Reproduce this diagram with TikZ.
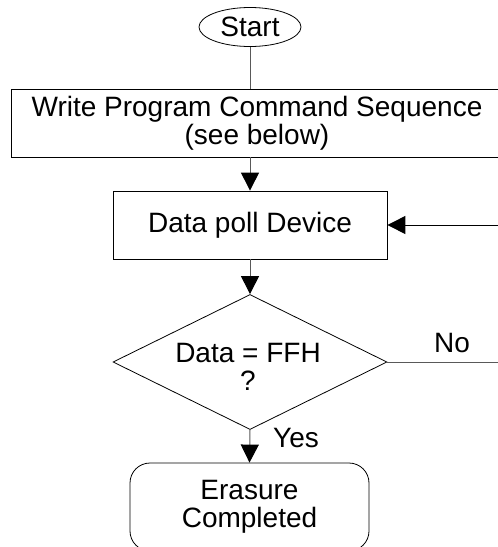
\documentclass[tikz,border=0pt]{standalone}
\usepackage{fontspec}
\setmainfont{Liberation Sans}
\usetikzlibrary{shapes.geometric,arrows.meta}
\begin{document}
\begin{tikzpicture}[x=1pt,y=-1pt,
  every node/.style={font=\fontsize{28}{28}\selectfont, align=center, inner sep=0pt},
  box/.style={draw=black, line width=0.8pt, rectangle},
  conn/.style={draw=black!65, line width=1pt},
  arr/.style={conn, -{Triangle[width=18pt,length=18pt,color=black,fill=black]}},
  lbl/.style={font=\fontsize{28}{28}\selectfont}]
\useasboundingbox (0,0) rectangle (498,547);
\clip (0,0) rectangle (498,547);
\node[draw=black, line width=0.8pt, ellipse, minimum width=102pt, minimum height=39pt] (start) at (250,27) {Start};
\node[box, minimum width=492pt, minimum height=68pt] (write) at (257,123) {Write Program Command Sequence\\(see below)};
\node[box, minimum width=274pt, minimum height=68pt] (poll) at (250,225) {Data poll Device};
\node[draw=black, line width=0.8pt, diamond, aspect=2.03, minimum width=274pt, minimum height=135pt] (dec) at (250,362) {};
\node (dectext) at (248,367) {Data = FFH\\?};
\node[box, rounded corners=20pt, minimum width=239pt, minimum height=88pt] (done) at (249.5,507) {Erasure\\Completed};
\coordinate (noend) at (520,362);
\coordinate (loopin) at (520,225);
\node[lbl] (nolbl) at (452,343) {No};
\node[lbl] (yeslbl) at (296,438) {Yes};
\draw[conn] (start.south) -- (start.south |- write.north);
\draw[arr] (write.south -| poll.north) -- (poll.north);
\draw[arr] (poll.south) -- (dec.north);
\draw[conn] (dec.east) -- (noend);
\draw[arr, draw=black] (loopin) -- (poll.east);
\draw[arr] (dec.south) -- (done.north);
\end{tikzpicture}
\end{document}
